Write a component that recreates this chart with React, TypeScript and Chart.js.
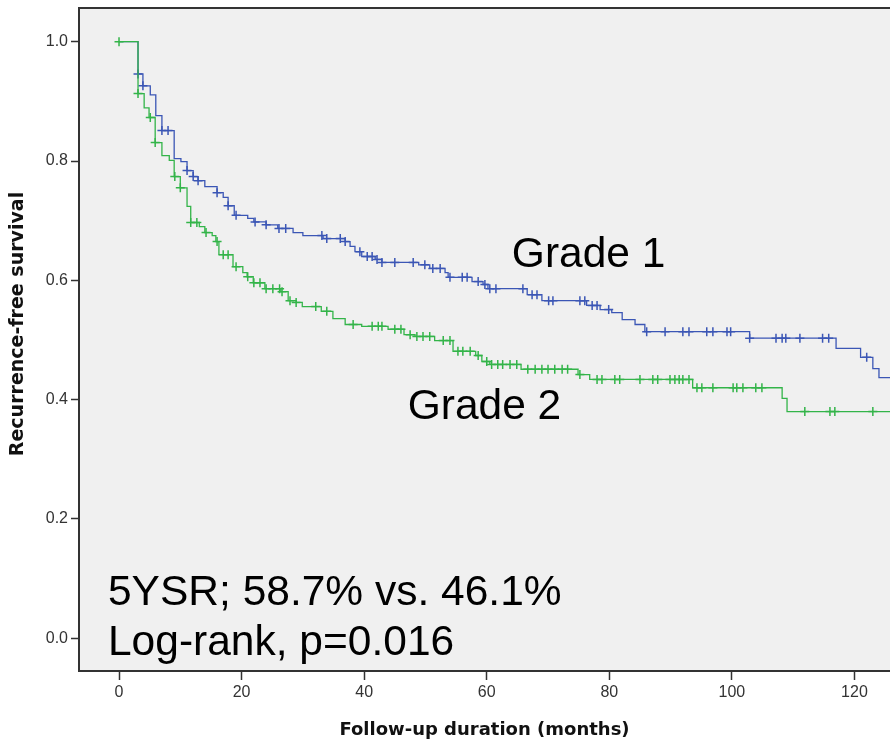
import React, { useEffect, useRef } from 'react';
import { Chart, registerables } from 'chart.js';

Chart.register(...registerables);

// ---------- data ----------
const X_TICKS = [0, 20, 40, 60, 80, 100, 120];
const Y_TICKS = [0, 0.2, 0.4, 0.6, 0.8, 1.0];
const X_MIN = -6.53;
const X_MAX = 125.8;
const Y_MIN = -0.0548;
const Y_MAX = 1.0565;

// Grade 1 (blue): event times (months) and survival after each step
const G1_TIMES = [0, 3.1, 3.9, 5.1, 6.0, 7.0, 9.0, 10.1, 11.1, 12.1, 12.9, 14.0, 16.0, 17.0, 17.8, 18.8, 21.0, 22.0, 24.0, 25.9, 28.4, 30.0, 33.3, 36.9, 37.7, 38.5, 39.6, 41.8, 42.9, 48.9, 50.7, 53.2, 53.7, 57.6, 59.4, 60.2, 66.6, 69.0, 76.3, 78.5, 80.4, 82.1, 84.2, 85.8, 102.9, 117.0, 121.0, 123.0, 124.0];
const G1_SURV = [1.0, 0.946, 0.926, 0.911, 0.876, 0.851, 0.804, 0.799, 0.784, 0.774, 0.767, 0.757, 0.747, 0.739, 0.725, 0.709, 0.704, 0.698, 0.693, 0.687, 0.680, 0.675, 0.670, 0.665, 0.657, 0.648, 0.640, 0.635, 0.630, 0.626, 0.620, 0.613, 0.605, 0.598, 0.593, 0.586, 0.576, 0.566, 0.558, 0.551, 0.546, 0.534, 0.526, 0.514, 0.503, 0.486, 0.471, 0.452, 0.437];
const G1_CENSOR = [3.1, 3.9, 7.0, 8.0, 11.1, 12.1, 12.9, 16.0, 17.8, 19.1, 22.2, 24.0, 26.1, 27.2, 33.1, 33.9, 36.1, 36.9, 39.3, 40.5, 41.3, 42.1, 42.9, 45.0, 48.0, 49.9, 51.2, 52.4, 54.0, 56.0, 56.8, 58.6, 59.7, 60.5, 61.5, 65.9, 67.4, 68.2, 70.1, 70.8, 75.2, 76.0, 77.2, 78.0, 79.9, 86.1, 89.1, 92.0, 93.0, 95.9, 96.9, 99.2, 99.8, 102.9, 107.2, 108.2, 108.8, 111.1, 114.8, 115.8, 122.0];
const G1_LAST = 128;

// Grade 2 (green)
const G2_TIMES = [0, 3.1, 4.1, 4.9, 5.9, 7.0, 8.2, 9.0, 10.0, 11.1, 11.7, 13.1, 14.0, 15.2, 15.8, 16.3, 18.6, 20.2, 20.9, 21.9, 23.8, 26.4, 27.6, 28.9, 29.9, 33.0, 34.9, 36.9, 39.6, 43.9, 46.5, 48.3, 51.5, 54.5, 58.2, 59.2, 60.5, 65.6, 74.9, 76.8, 93.6, 108.2, 109.0];
const G2_SURV = [1.0, 0.913, 0.889, 0.873, 0.831, 0.809, 0.801, 0.774, 0.755, 0.724, 0.697, 0.690, 0.680, 0.675, 0.665, 0.643, 0.623, 0.613, 0.606, 0.596, 0.586, 0.581, 0.566, 0.563, 0.556, 0.548, 0.536, 0.526, 0.523, 0.518, 0.509, 0.506, 0.499, 0.481, 0.474, 0.464, 0.459, 0.451, 0.442, 0.434, 0.420, 0.402, 0.380];
const G2_CENSOR = [0, 3.1, 5.1, 5.9, 9.1, 10.0, 11.7, 12.7, 14.2, 16.0, 17.0, 17.8, 19.1, 21.0, 22.0, 23.0, 24.0, 25.1, 26.2, 26.6, 27.9, 28.9, 32.1, 33.9, 38.2, 41.3, 42.3, 42.9, 45.0, 46.0, 47.5, 48.6, 49.6, 50.7, 52.9, 54.0, 55.3, 56.1, 57.3, 58.6, 60.0, 60.8, 61.8, 62.6, 63.8, 64.9, 66.7, 67.9, 69.0, 70.0, 71.1, 72.3, 73.2, 75.2, 78.0, 78.8, 80.9, 81.7, 85.0, 87.1, 87.9, 89.9, 90.7, 91.4, 92.0, 93.0, 94.3, 95.1, 96.9, 100.2, 100.8, 101.8, 103.9, 104.9, 111.9, 116.0, 116.8, 123.0];
const G2_LAST = 128;

const X_TITLE = 'Follow-up duration (months)';
const Y_TITLE = 'Recurrence-free survival';
const GRADE_LABELS = [
  { text: 'Grade 1', x: 64.1, y: 0.622 },
  { text: 'Grade 2', x: 47.1, y: 0.368 },
];
const STAT_LINES = [
  { text: '5YSR; 58.7% vs. 46.1%', x: -1.8, y: 0.056 },
  { text: 'Log-rank, p=0.016', x: -1.8, y: -0.028 },
];

const BLUE = '#3b56b5';
const GREEN = '#33b449';

// ---------- helpers ----------
function stepPoints(times: number[], surv: number[], last: number) {
  const pts = times.map((t, i) => ({ x: t, y: surv[i] }));
  pts.push({ x: last, y: surv[surv.length - 1] });
  return pts;
}
function survAt(times: number[], surv: number[], t: number) {
  let s = surv[0];
  for (let i = 0; i < times.length; i++) if (times[i] <= t) s = surv[i];
  return s;
}
function censorPoints(times: number[], surv: number[], cens: number[]) {
  return cens.map((t) => ({ x: t, y: survAt(times, surv, t) }));
}

const TICK_FONT = { family: '"Liberation Sans Narrow", "Liberation Sans", Arial, sans-serif', size: 16 };
const TITLE_FAMILY = '"DejaVu Sans", sans-serif';
const X_TITLE_SIZE = 18;
const Y_TITLE_SIZE = 19;

const decorPlugin = {
  id: 'decor',
  beforeDraw(chart: any) {
    const { ctx, chartArea: a } = chart;
    ctx.save();
    ctx.fillStyle = '#f0f0f0';
    ctx.fillRect(a.left, a.top, a.right - a.left, a.bottom - a.top);
    ctx.restore();
  },
  afterDatasetsDraw(chart: any) {
    const { ctx, scales } = chart;
    ctx.save();
    ctx.fillStyle = '#000';
    ctx.textBaseline = 'alphabetic';
    ctx.textAlign = 'left';
    ctx.font = '42.5px "Liberation Sans", Arial, sans-serif';
    [...GRADE_LABELS, ...STAT_LINES].forEach((l) => {
      ctx.fillText(l.text, scales.x.getPixelForValue(l.x), scales.y.getPixelForValue(l.y));
    });
    ctx.restore();
  },
  afterDraw(chart: any) {
    const { ctx, chartArea: a } = chart;
    ctx.save();
    ctx.strokeStyle = '#333';
    ctx.lineWidth = 2;
    ctx.beginPath();
    ctx.moveTo(a.left - 1, a.top);
    ctx.lineTo(a.right, a.top);
    ctx.stroke();
    // y-axis title
    ctx.fillStyle = '#111';
    ctx.font = `bold ${Y_TITLE_SIZE}px ${TITLE_FAMILY}`;
    ctx.textAlign = 'center';
    ctx.textBaseline = 'middle';
    ctx.translate(18, 324);
    ctx.rotate(-Math.PI / 2);
    ctx.fillText(Y_TITLE, 0, 0);
    ctx.restore();
  },
};

export default function App() {
  const ref = useRef<HTMLCanvasElement | null>(null);
  useEffect(() => {
    if (!ref.current) return;
    const chart = new Chart(ref.current, {
      type: 'line',
      data: {
        datasets: [
          {
            type: 'scatter',
            data: censorPoints(G2_TIMES, G2_SURV, G2_CENSOR),
            showLine: false,
            pointStyle: 'cross',
            pointRadius: 4.5,
            pointBorderWidth: 1.5,
            borderColor: GREEN,
            backgroundColor: GREEN,
          },
          {
            data: stepPoints(G2_TIMES, G2_SURV, G2_LAST),
            stepped: 'before',
            borderColor: GREEN,
            borderWidth: 1.3,
            pointRadius: 0,
            fill: false,
          },
          {
            type: 'scatter',
            data: censorPoints(G1_TIMES, G1_SURV, G1_CENSOR),
            showLine: false,
            pointStyle: 'cross',
            pointRadius: 4.5,
            pointBorderWidth: 1.5,
            borderColor: BLUE,
            backgroundColor: BLUE,
          },
          {
            data: stepPoints(G1_TIMES, G1_SURV, G1_LAST),
            stepped: 'before',
            borderColor: BLUE,
            borderWidth: 1.3,
            pointRadius: 0,
            fill: false,
          },
        ] as any,
      },
      options: {
        animation: false,
        responsive: false,
        devicePixelRatio: 1,
        layout: { autoPadding: false, padding: { top: 8, left: 0, right: 0, bottom: 0 } },
        plugins: { legend: { display: false }, tooltip: { enabled: false } },
        scales: {
          x: {
            type: 'linear',
            min: X_MIN,
            max: X_MAX,
            afterBuildTicks: (s: any) => {
              s.ticks = X_TICKS.map((v) => ({ value: v }));
            },
            afterFit: (s: any) => {
              s.height = 73;
              s.paddingLeft = 0;
              s.paddingRight = 0;
            },
            ticks: {
              font: TICK_FONT,
              color: '#333',
              padding: 3,
              maxRotation: 0,
              autoSkip: false,
              callback: (v: any) => String(v),
            },
            grid: { drawOnChartArea: false, drawTicks: true, tickLength: 9, tickColor: '#333', tickWidth: 1.5 },
            border: { display: true, color: '#333', width: 2 },
            title: {
              display: true,
              text: X_TITLE,
              color: '#111',
              font: { family: TITLE_FAMILY, size: X_TITLE_SIZE, weight: 'bold' },
              padding: { top: 0, bottom: 3 },
            },
          },
          y: {
            type: 'linear',
            min: Y_MIN,
            max: Y_MAX,
            afterBuildTicks: (s: any) => {
              s.ticks = Y_TICKS.map((v) => ({ value: v }));
            },
            afterFit: (s: any) => {
              s.width = 79;
              s.paddingTop = 0;
              s.paddingBottom = 0;
            },
            ticks: {
              font: TICK_FONT,
              color: '#333',
              padding: 3,
              autoSkip: false,
              callback: (v: any) => Number(v).toFixed(1),
            },
            grid: { drawOnChartArea: false, drawTicks: true, tickLength: 8, tickColor: '#333', tickWidth: 1.5 },
            border: { display: true, color: '#333', width: 2 },
            title: { display: false },
          },
        },
      } as any,
      plugins: [decorPlugin],
    });
    return () => chart.destroy();
  }, []);
  return (
    <div style={{ position: 'absolute', left: 0, top: 0, width: 890, height: 744, background: '#fff' }}>
      <canvas ref={ref} width={890} height={744} style={{ width: 890, height: 744, display: 'block' }} />
    </div>
  );
}
